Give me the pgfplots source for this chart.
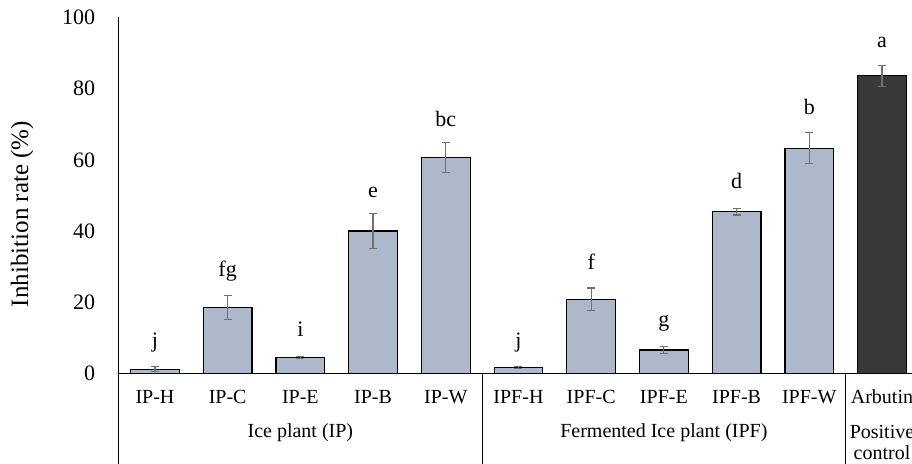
\documentclass[border=0pt]{standalone}
\usepackage{fontspec}
\setmainfont{Liberation Serif}
\usepackage{pgfplots}
\usepackage{pgfplotstable}
\pgfplotsset{compat=1.18}
\definecolor{barblue}{HTML}{ADB9CA}
\definecolor{bardark}{HTML}{3A3838}
\definecolor{errgray}{HTML}{707070}
\pgfplotstableread{
x y err ly lab
0 1.2 0.7 7.2 j
1 18.5 3.3 27.3 fg
2 4.5 0.3 10.3 i
3 40.0 4.9 49.5 e
4 60.6 4.2 69.3 bc
5 1.6 0.3 7.2 j
6 20.8 3.2 29.2 f
7 6.6 0.9 13.1 g
8 45.4 0.9 51.9 d
9 63.3 4.4 72.7 b
}\ipdata
\pgfplotstableread{
x y err ly lab
10 83.6 3.0 91.7 a
}\ctrldata
\begin{document}
\begin{tikzpicture}
\begin{axis}[
  at={(118.6pt,89.5pt)}, anchor=south west,
  scale only axis, width=793.4pt, height=356pt,
  xmin=-0.5, xmax=10.413, ymin=0, ymax=100,
  clip=false,
  axis x line*=bottom, axis y line*=left,
  axis line style={line width=1.4pt, black},
  ytick={0,20,40,60,80,100},
  xtick={0,1,2,3,4,5,6,7,8,9,10},
  xticklabels={IP-H,IP-C,IP-E,IP-B,IP-W,IPF-H,IPF-C,IPF-E,IPF-B,IPF-W,Arbutin},
  major tick length=0pt,
  tick style={draw=none},
  /pgf/number format/assume math mode=true,
  yticklabel style={font=\fontsize{22}{26}\selectfont, anchor=east, xshift=-20pt},
  xticklabel style={font=\fontsize{20}{24}\selectfont, anchor=base, yshift=-29.8pt},
  every node near coord/.append style={anchor=base, inner sep=0pt, font=\fontsize{22}{26}\selectfont, black},
]
\addplot[ybar, bar width=48.7pt, bar shift=0pt, fill=barblue, draw=black, line width=1.2pt,
  error bars/.cd, y dir=both, y explicit,
  error bar style={color=errgray, line width=1.2pt},
  error mark options={rotate=90, mark size=4pt, line width=1.2pt, color=errgray}]
  table[x=x, y=y, y error=err] {\ipdata};
\addplot[ybar, bar width=48.7pt, bar shift=0pt, fill=bardark, draw=black, line width=1.2pt,
  error bars/.cd, y dir=both, y explicit,
  error bar style={color=errgray, line width=1.2pt},
  error mark options={rotate=90, mark size=4pt, line width=1.2pt, color=errgray}]
  table[x=x, y=y, y error=err] {\ctrldata};
\addplot[draw=none, mark=none, nodes near coords, point meta=explicit symbolic]
  table[x=x, y=ly, meta=lab] {\ipdata};
\addplot[draw=none, mark=none, nodes near coords, point meta=explicit symbolic]
  table[x=x, y=ly, meta=lab] {\ctrldata};
\draw[line width=1.4pt, black] (axis cs:-0.5,100) -- (axis cs:-0.5,-30);
\draw[line width=1.2pt, black] (axis cs:4.5,0) -- (axis cs:4.5,-30);
\draw[line width=1.2pt, black] (axis cs:9.5,0) -- (axis cs:9.5,-30);
\node[anchor=base, font=\fontsize{20}{24}\selectfont] at ([yshift=-63.8pt]axis cs:2,0) {Ice plant (IP)};
\node[anchor=base, font=\fontsize{20}{24}\selectfont] at ([yshift=-63.8pt]axis cs:7,0) {Fermented Ice plant (IPF)};
\node[anchor=base, font=\fontsize{20}{24}\selectfont] at ([yshift=-64.5pt]axis cs:10,0) {Positive};
\node[anchor=base, font=\fontsize{20}{24}\selectfont] at ([yshift=-85.5pt]axis cs:10,0) {control};
\end{axis}
\node[rotate=90, anchor=center, font=\fontsize{25}{30}\selectfont] at (22pt,249pt) {Inhibition rate (\%)};
\pgfresetboundingbox
\path[use as bounding box] (0,0) rectangle (912pt,463pt);
\end{tikzpicture}
\end{document}
